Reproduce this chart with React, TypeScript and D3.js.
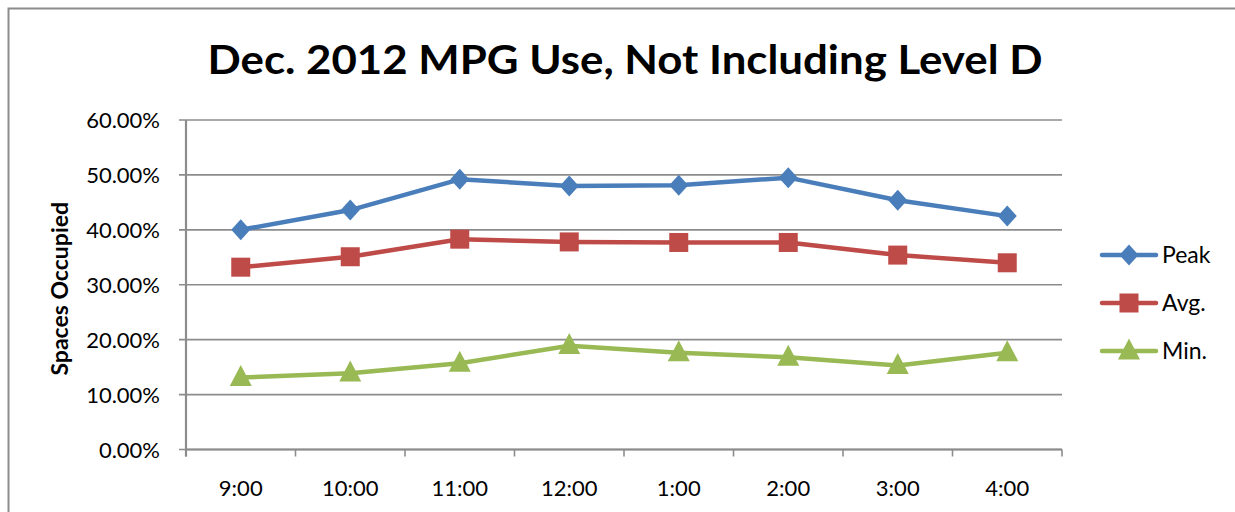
import React from "react";
import * as d3 from "d3";

const categories = ["9:00", "10:00", "11:00", "12:00", "1:00", "2:00", "3:00", "4:00"];
const peak = [40.0, 43.6, 49.2, 48.0, 48.1, 49.5, 45.4, 42.5];
const avg = [33.2, 35.1, 38.3, 37.8, 37.7, 37.7, 35.4, 34.0];
const minV = [13.1, 13.9, 15.7, 18.9, 17.6, 16.8, 15.3, 17.6];
const yTicks = [0, 10, 20, 30, 40, 50, 60];
const seriesNames = ["Peak", "Avg.", "Min."];
const seriesColors = ["#4a7ebb", "#be4b48", "#98b954"];
const title = "Dec. 2012 MPG Use, Not Including Level D";
const yTitle = "Spaces Occupied";

const W = 1235;
const H = 512;
const plot = { left: 186, right: 1062, top: 120, bottom: 449.5 };
const FONT = "Lato, 'Open Sans', sans-serif";

function Marker({ kind, x, y, color }: { kind: number; x: number; y: number; color: string }) {
  if (kind === 0) {
    const rx = 9.5;
    const ry = 10.5;
    return <path d={`M${x},${y - ry}L${x + rx},${y}L${x},${y + ry}L${x - rx},${y}Z`} fill={color} />;
  }
  if (kind === 1) {
    const s = 19;
    return <rect x={x - s / 2} y={y - s / 2} width={s} height={s} fill={color} />;
  }
  const h = 21;
  const w = 22;
  return <path d={`M${x},${y - h * 0.6}L${x + w / 2},${y + h * 0.4}L${x - w / 2},${y + h * 0.4}Z`} fill={color} />;
}

export default function App() {
  const x = d3.scaleBand<string>().domain(categories).range([plot.left, plot.right]);
  const y = d3.scaleLinear().domain([0, 60]).range([plot.bottom, plot.top]);
  const series = [peak, avg, minV];
  const line = d3
    .line<number>()
    .x((_, i) => (x(categories[i]) as number) + x.bandwidth() / 2)
    .y((d) => y(d));
  const tickXs = categories.map((c) => x(c) as number).concat([plot.right]);

  return (
    <svg width={W} height={H} style={{ position: "absolute", left: 0, top: 0 }} fontFamily={FONT}>
      <rect x={0} y={0} width={W} height={H} fill="#fff" />
      <rect x={8.5} y={8.5} width={W + 20} height={H + 20} fill="none" stroke="#8c8c8c" strokeWidth={2} />
      <text x={625} y={74} textAnchor="middle" fontSize={40} fontWeight="bold" fill="#000" textLength={835} lengthAdjust="spacingAndGlyphs">
        {title}
      </text>
      {yTicks.map((t) => (
        <g key={t}>
          <line x1={plot.left - 7} x2={plot.right} y1={y(t)} y2={y(t)} stroke="#8c8c8c" strokeWidth={1.6} />
          <text x={160} y={y(t) + 8} textAnchor="end" fontSize={22} fill="#000">
            {t.toFixed(2) + "%"}
          </text>
        </g>
      ))}
      <line x1={plot.left} x2={plot.left} y1={plot.top} y2={plot.bottom + 7} stroke="#8c8c8c" strokeWidth={2.2} />
      <line x1={plot.left} x2={plot.right} y1={plot.bottom} y2={plot.bottom} stroke="#8c8c8c" strokeWidth={2.2} />
      {tickXs.map((tx, i) => (
        <line key={i} x1={tx} x2={tx} y1={plot.bottom} y2={plot.bottom + 7} stroke="#8c8c8c" strokeWidth={1.6} />
      ))}
      {categories.map((c) => (
        <text key={c} x={(x(c) as number) + x.bandwidth() / 2} y={496} textAnchor="middle" fontSize={22} fill="#000">
          {c}
        </text>
      ))}
      <text
        transform={`translate(68,${(plot.top + plot.bottom) / 2 + 4}) rotate(-90)`}
        textAnchor="middle"
        fontSize={23}
        fontWeight="bold"
        fill="#000"
      >
        {yTitle}
      </text>
      {series.map((s, si) => (
        <g key={si}>
          <path d={line(s) || ""} fill="none" stroke={seriesColors[si]} strokeWidth={4.5} strokeLinejoin="round" />
          {s.map((v, i) => (
            <Marker key={i} kind={si} x={(x(categories[i]) as number) + x.bandwidth() / 2} y={y(v)} color={seriesColors[si]} />
          ))}
        </g>
      ))}
      {seriesNames.map((n, i) => {
        const ly = 255 + i * 48;
        return (
          <g key={n}>
            <line x1={1102} x2={1156} y1={ly} y2={ly} stroke={seriesColors[i]} strokeWidth={4.5} strokeLinecap="round" />
            <Marker kind={i} x={1129} y={ly} color={seriesColors[i]} />
            <text x={1162} y={ly + 8} fontSize={23} fill="#000">
              {n}
            </text>
          </g>
        );
      })}
    </svg>
  );
}
